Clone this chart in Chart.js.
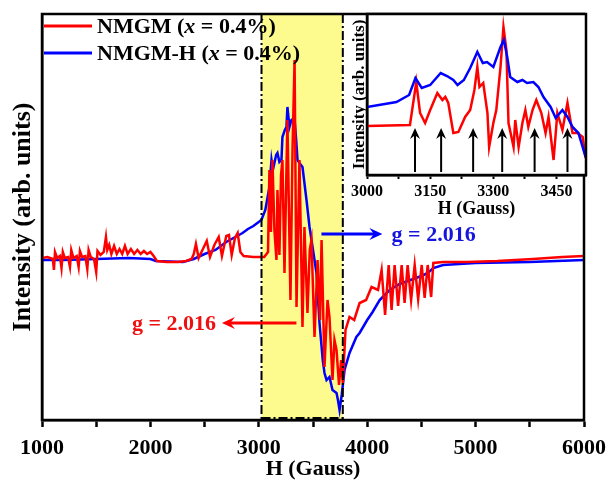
<!DOCTYPE html>
<html><head><meta charset="utf-8">
<script src="https://cdn.jsdelivr.net/npm/chart.js@4.4.1/dist/chart.umd.min.js"></script>
<style>
html,body{margin:0;padding:0;background:#fff;}
#wrap{position:relative;width:610px;height:480px;overflow:hidden;}
#main{position:absolute;left:0;top:0;}
#inset{position:absolute;left:330px;top:0;}
</style></head><body>
<div id="wrap"><canvas id="main" width="610" height="480"></canvas><canvas id="inset" width="280" height="230"></canvas></div>
<script>
// ---------- data (intensity in arbitrary units) ----------
const seriesNames = ['NMGM', 'NMGM-H'];
const xTickLabels = [1000, 2000, 3000, 4000, 5000, 6000];
const xMinorTicks = [1500, 2500, 3500, 4500, 5500];
const insetTickLabels = [3000, 3150, 3300, 3450];
const insetMinorTicks = [3075, 3225, 3375];

const redH = [1000,1050,1100,1110,1120,1140,1165,1180,1192,1210,1240,1258,1270,1290,1320,1338,1350,1370,1400,1418,1430,1450,1480,1500,1512,1540,1570,1590,1602,1620,1640,1665,1690,1715,1740,1765,1790,1820,1850,1880,1910,1940,1970,2000,2030,2060,2150,2250,2330,2380,2400,2420,2445,2480,2520,2550,2590,2630,2660,2700,2725,2750,2780,2805,2830,2860,2950,3050,3085,3098,3112,3126,3144,3163,3172,3190,3205,3218,3237,3264,3292,3311,3330,3348,3375,3403,3421,3449,3470,3486,3514,3542,3565,3579,3606,3634,3652,3680,3698,3717,3740,3760,3775,3800,3837,3880,3930,3990,4040,4100,4133,4165,4198,4225,4253,4285,4318,4345,4373,4405,4438,4470,4503,4530,4558,4590,4610,4700,4919,5200,5529,5800,6000];
const redI = [0,1,-1,-12,6,0,2,-10,6,0,1,-9,8,0,2,-9,7,1,2,-11,8,1,-1,-14,7,3,6,21,8,13,4,12,4,9,4,12,4,9,4,8,4,7,4,6,2,-3,-4,-4,-3,-1,4,14,0,8,17,1,13,21,2,22,23,3,20,25,6,2,1,1,6,88,26,98,28,-2,68,3,83,98,-15,138,-42,108,198,-49,98,-69,31,-55,8,18,-79,-2,-62,18,-109,-42,-59,-122,-82,-92,-127,-102,-125,-72,-59,-62,-45,-42,-29,-32,-12,-57,-7,-52,-7,-48,-7,-45,-7,-42,-7,-41,-7,-40,-7,-39,-5,-4,-4,-3,-1,1,2];

const blueH = [1000,1200,1500,1800,2000,2050,2300,2400,2500,2600,2700,2800,2850,2900,2950,3024,3060,3098,3117,3130,3144,3160,3172,3190,3209,3218,3240,3255,3264,3283,3301,3329,3345,3357,3375,3403,3440,3468,3500,3532,3560,3590,3606,3625,3652,3680,3717,3730,3745,3765,3791,3837,3900,3930,4000,4050,4115,4207,4300,4400,4500,4560,4610,4700,5000,5500,6000];
const blueI = [-2,-2,-1,0,-1,-3,-4,-1,4,8,16,22,25,29,32,38,48,71,98,88,95,103,105,96,98,121,128,131,151,131,138,140,118,98,95,91,58,31,8,-15,-65,-102,-115,-122,-119,-132,-135,-142,-152,-137,-112,-95,-79,-75,-62,-54,-42,-32,-26,-22,-18,-15,-10,-7,-5,-4,-2];

const insetRedH = [3000,3102,3117,3126,3138,3150,3167,3179,3186,3193,3205,3217,3233,3245,3255,3262,3267,3276,3286,3290,3300,3307,3317,3324,3331,3336,3348,3352,3360,3369,3376,3383,3393,3402,3414,3424,3431,3443,3452,3464,3476,3488,3500,3512,3519];
const insetRedI = [49,50,93,62,52,65,82,75,78,72,42,43,58,65,85,108,88,92,62,28,52,65,108,148,125,52,28,55,28,52,65,48,65,75,62,42,58,15,62,45,72,42,42,38,17];
const insetBlueH = [3000,3070,3100,3115,3130,3150,3175,3190,3205,3215,3230,3245,3262,3275,3285,3300,3317,3325,3333,3340,3357,3369,3380,3395,3407,3419,3436,3448,3464,3476,3488,3502,3519];
const insetBlueI = [68,73,80,97,87,90,102,99,95,90,95,107,123,112,113,108,128,135,118,98,93,95,92,93,88,78,68,57,65,58,48,42,18];
const insetArrowH = [3114,3176,3252,3321,3398,3476];
const insetArrowBase = 3, insetArrowTip = 47;

const bandStart = 3025, bandEnd = 3775;
const gLabel = 'g = 2.016';
const redArrow = {from: 3347, to: 2660, at: -65, textEnd: 2605};
const blueArrow = {from: 3578, to: 4140, at: 24, textStart: 4225};

// ---------- helpers ----------
const zip = (h, v) => h.map((x, i) => ({x, y: v[i]}));
const SERIF = '"Liberation Serif", "Times New Roman", serif';
const RED = '#ff0000', BLUE = '#0000ff';
const setTicks = (labels, minor) => s => {
  s.ticks = labels.concat(minor).sort((a, b) => a - b).map(v => ({value: v}));
};
const noPad = h => s => { s.height = h; s.paddingLeft = 0; s.paddingRight = 0; };

function arrowH(ctx, x1, x2, y, color) {
  const dir = Math.sign(x2 - x1), hl = 13, hw = 6;
  ctx.save();
  ctx.strokeStyle = color; ctx.fillStyle = color; ctx.lineWidth = 3;
  ctx.beginPath(); ctx.moveTo(x1, y); ctx.lineTo(x2 - dir * hl * 0.6, y); ctx.stroke();
  ctx.beginPath(); ctx.moveTo(x2, y); ctx.lineTo(x2 - dir * hl, y - hw);
  ctx.lineTo(x2 - dir * hl * 0.65, y); ctx.lineTo(x2 - dir * hl, y + hw); ctx.closePath(); ctx.fill();
  ctx.restore();
}
function arrowV(ctx, x, y1, y2) {
  const hl = 11, hw = 5;
  ctx.save();
  ctx.strokeStyle = '#000'; ctx.fillStyle = '#000'; ctx.lineWidth = 2;
  ctx.beginPath(); ctx.moveTo(x, y1); ctx.lineTo(x, y2 + hl * 0.6); ctx.stroke();
  ctx.beginPath(); ctx.moveTo(x, y2); ctx.lineTo(x - hw, y2 + hl);
  ctx.lineTo(x, y2 + hl * 0.65); ctx.lineTo(x + hw, y2 + hl); ctx.closePath(); ctx.fill();
  ctx.restore();
}
function richText(ctx, parts, x, y) {
  for (const [t, style] of parts) {
    ctx.font = style + ' 22px ' + SERIF;
    ctx.fillText(t, x, y);
    x += ctx.measureText(t).width;
  }
}

// ---------- main chart ----------
const mainDecor = {
  id: 'mainDecor',
  beforeDatasetsDraw(chart) {
    const {ctx, chartArea: a, scales: {x}} = chart;
    const x1 = x.getPixelForValue(bandStart), x2 = x.getPixelForValue(bandEnd);
    ctx.save();
    ctx.fillStyle = '#fdfb8e';
    ctx.fillRect(x1, a.top, x2 - x1, a.bottom - a.top);
    ctx.restore();
  },
  afterDatasetsDraw(chart) {
    const {ctx, chartArea: a, scales: {x, y}} = chart;
    const x1 = x.getPixelForValue(bandStart), x2 = x.getPixelForValue(bandEnd);
    ctx.save();
    ctx.strokeStyle = '#000'; ctx.lineWidth = 2; ctx.setLineDash([9, 3, 2, 3]);
    ctx.beginPath();
    ctx.moveTo(x1, a.top); ctx.lineTo(x1, a.bottom);
    ctx.moveTo(x2, a.top); ctx.lineTo(x2, a.bottom);
    ctx.moveTo(x1, a.bottom - 2); ctx.lineTo(x2, a.bottom - 2);
    ctx.stroke();
    ctx.restore();
    // frame
    ctx.save();
    ctx.strokeStyle = '#000'; ctx.lineWidth = 2.5;
    ctx.strokeRect(a.left, a.top, a.right - a.left, a.bottom - a.top);
    ctx.restore();
    // g arrows
    const ry = y.getPixelForValue(redArrow.at);
    arrowH(ctx, x.getPixelForValue(redArrow.from), x.getPixelForValue(redArrow.to), ry, RED);
    const by = y.getPixelForValue(blueArrow.at);
    arrowH(ctx, x.getPixelForValue(blueArrow.from), x.getPixelForValue(blueArrow.to), by, BLUE);
    ctx.save();
    ctx.font = 'bold 22px ' + SERIF; ctx.textBaseline = 'middle';
    ctx.fillStyle = '#ee1111'; ctx.textAlign = 'right';
    ctx.fillText(gLabel, x.getPixelForValue(redArrow.textEnd), ry + 1);
    ctx.fillStyle = '#1515dd'; ctx.textAlign = 'left';
    ctx.fillText(gLabel, x.getPixelForValue(blueArrow.textStart), by + 1);
    ctx.restore();
    // legend
    ctx.save();
    ctx.textBaseline = 'middle'; ctx.fillStyle = '#000';
    chart.data.datasets.forEach((ds, i) => {
      const ly = a.top + 12 + i * 27;
      ctx.strokeStyle = ds.borderColor; ctx.lineWidth = 3;
      ctx.beginPath(); ctx.moveTo(a.left + 2, ly); ctx.lineTo(a.left + 50, ly); ctx.stroke();
      richText(ctx, [[ds.label + ' (', 'bold'], ['x', 'italic bold'], [' = 0.4%)', 'bold']], a.left + 55, ly + 1);
    });
    ctx.restore();
  }
};

new Chart(document.getElementById('main'), {
  type: 'line',
  data: {
    datasets: [
      {label: seriesNames[0], data: zip(redH, redI), borderColor: RED, borderWidth: 2.5, pointRadius: 0, tension: 0},
      {label: seriesNames[1], data: zip(blueH, blueI), borderColor: BLUE, borderWidth: 2.5, pointRadius: 0, tension: 0}
    ]
  },
  options: {
    responsive: false, animation: false,
    layout: {padding: {top: 14, right: 26, left: 0, bottom: 0}},
    plugins: {legend: {display: false}, tooltip: {enabled: false}},
    scales: {
      x: {
        type: 'linear', min: 1000, max: 6000,
        afterBuildTicks: setTicks(xTickLabels, xMinorTicks),
        afterFit: noPad(60),
        grid: {drawOnChartArea: false, drawTicks: true, tickLength: 7, tickWidth: 2.5, tickColor: '#000'},
        border: {display: true, color: '#000', width: 2.5},
        ticks: {autoSkip: false, maxRotation: 0, padding: 8, color: '#000',
          font: {family: SERIF, size: 22, weight: 'bold'},
          callback: v => xTickLabels.includes(v) ? String(v) : ''},
        title: {display: true, text: 'H (Gauss)', color: '#000', padding: {top: 0, bottom: 0},
          font: {family: SERIF, size: 22, weight: 'bold', lineHeight: 1}}
      },
      y: {
        min: -162, max: 244,
        afterFit(s) { s.width = 42; },
        grid: {display: false},
        border: {display: true, color: '#000', width: 2.5},
        ticks: {display: false},
        title: {display: true, text: 'Intensity (arb. units)', color: '#000', padding: {top: 10, bottom: 0},
          font: {family: SERIF, size: 26, weight: 'bold', lineHeight: 1}}
      }
    }
  },
  plugins: [mainDecor]
});

// ---------- inset chart ----------
const insetDecor = {
  id: 'insetDecor',
  beforeDraw(chart) {
    const {ctx, chartArea: a} = chart;
    ctx.save(); ctx.fillStyle = '#fff';
    ctx.fillRect(a.left, a.top, a.right - a.left, a.bottom - a.top);
    ctx.restore();
  },
  afterDatasetsDraw(chart) {
    const {ctx, chartArea: a, scales: {x, y}} = chart;
    insetArrowH.forEach(h => arrowV(ctx, x.getPixelForValue(h), y.getPixelForValue(insetArrowBase), y.getPixelForValue(insetArrowTip)));
    ctx.save();
    ctx.strokeStyle = '#000'; ctx.lineWidth = 2.5;
    ctx.strokeRect(a.left, a.top, a.right - a.left, a.bottom - a.top);
    ctx.restore();
  }
};

new Chart(document.getElementById('inset'), {
  type: 'line',
  data: {
    datasets: [
      {label: seriesNames[1], data: zip(insetBlueH, insetBlueI), borderColor: BLUE, borderWidth: 2.5, pointRadius: 0, tension: 0},
      {label: seriesNames[0], data: zip(insetRedH, insetRedI), borderColor: RED, borderWidth: 2.5, pointRadius: 0, tension: 0}
    ]
  },
  options: {
    responsive: false, animation: false,
    layout: {padding: {top: 14, right: 24, left: 0, bottom: 0}},
    plugins: {legend: {display: false}, tooltip: {enabled: false}},
    scales: {
      x: {
        type: 'linear', min: 3000, max: 3520,
        afterBuildTicks: setTicks(insetTickLabels, insetMinorTicks),
        afterFit: noPad(55),
        grid: {drawOnChartArea: false, drawTicks: true, tickLength: 4, tickWidth: 2, tickColor: '#000'},
        border: {display: true, color: '#000', width: 2.5},
        ticks: {autoSkip: false, maxRotation: 0, padding: 3, color: '#000',
          font: {family: SERIF, size: 16, weight: 'bold'},
          callback: v => insetTickLabels.includes(v) ? String(v) : ''},
        title: {display: true, text: 'H (Gauss)', color: '#000', padding: {top: 0, bottom: 12},
          font: {family: SERIF, size: 18, weight: 'bold', lineHeight: 1}}
      },
      y: {
        min: 0, max: 161,
        afterFit(s) { s.width = 37; },
        grid: {display: false},
        border: {display: true, color: '#000', width: 2.5},
        ticks: {display: false},
        title: {display: true, text: 'Intensity (arb. units)', color: '#000', padding: {top: 21, bottom: 0},
          font: {family: SERIF, size: 17, weight: 'bold', lineHeight: 1}}
      }
    }
  },
  plugins: [insetDecor]
});
</script>
</body></html>
